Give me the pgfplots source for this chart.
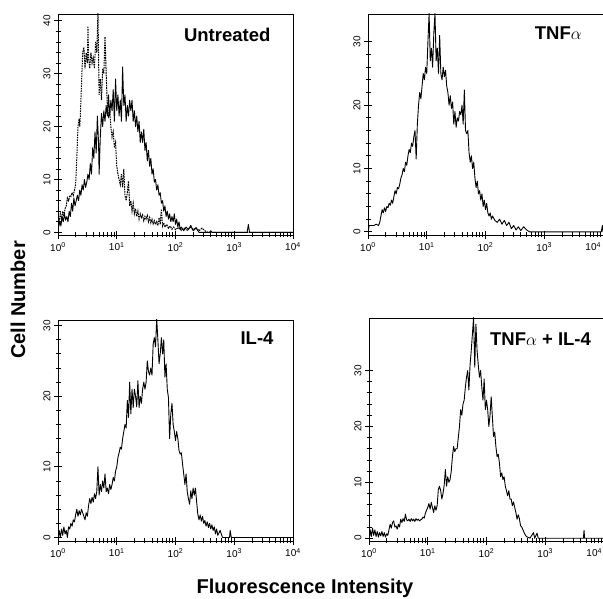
\documentclass[border=0pt]{standalone}
\usepackage{fontspec}
\setmainfont{Liberation Sans}
\usepackage{pgfplots}
\pgfplotsset{compat=1.18}
\tikzset{
  ptitle/.style={font=\fontsize{18.5}{20}\selectfont\bfseries},
  fcs/.style={black, line width=0.9pt, line join=round},
  fcsd/.style={black, line width=1pt, dash pattern=on 1.6pt off 0.9pt},
}
\pgfplotsset{
  flow/.style={
    scale only axis, width=235pt, height=221pt,
    xmin=0, xmax=4, ymin=-0.5,
    axis line style={line width=0.8pt},
    tick align=center,
    xtick pos=left, ytick pos=left,
    major tick length=8pt, minor tick length=5pt,
    tick style={black, line width=0.8pt},
    xtick={0,1,2,3,4},
    xticklabels={10\textsuperscript{0},10\textsuperscript{1},10\textsuperscript{2},10\textsuperscript{3},10\textsuperscript{4}},
    minor xtick={0.301,0.477,0.602,0.699,0.778,0.845,0.903,0.954,1.301,1.477,1.602,1.699,1.778,1.845,1.903,1.954,2.301,2.477,2.602,2.699,2.778,2.845,2.903,2.954,3.301,3.477,3.602,3.699,3.778,3.845,3.903,3.954},
    minor y tick num=4,
    /pgf/number format/assume math mode=true,
    xticklabel style={font=\fontsize{10}{10}\selectfont},
    yticklabel style={font=\fontsize{10}{10}\selectfont, rotate=90, anchor=south},
  },
  rightpanel/.style={
    xticklabels={10\textsuperscript{0},10\textsuperscript{1},10\textsuperscript{2},10\textsuperscript{3},\makebox[0pt][r]{10\textsuperscript{4}\hspace{2pt}}},
  },
}
\begin{document}
\begin{tikzpicture}
\path[use as bounding box] (0pt,0pt) rectangle (603pt,599pt);

% ---------------- Untreated
\begin{axis}[flow, at={(58pt,364pt)}, anchor=south west, ymax=41.3, ytick={0,10,20,30,40}]
\addplot[fcs] coordinates {
(0.00,10) (0.01,1) (0.03,2) (0.05,1.2) (0.07,3) (0.09,2) (0.11,3.5) (0.13,2.3) (0.15,3) (0.17,2)
(0.19,4) (0.21,3) (0.23,5.5) (0.25,4) (0.27,6.5) (0.29,5) (0.31,6) (0.33,7) (0.35,6) (0.37,8)
(0.39,7) (0.41,9) (0.43,8) (0.45,10) (0.47,8.5) (0.49,9.5) (0.51,11) (0.53,10) (0.55,13) (0.57,11)
(0.59,16) (0.61,14) (0.63,19) (0.65,15) (0.67,22) (0.69,17) (0.70,11) (0.72,18) (0.74,22.5) (0.76,20)
(0.78,23) (0.80,21) (0.82,24) (0.84,22) (0.86,26) (0.88,22) (0.90,25) (0.92,23) (0.94,27) (0.96,21)
(0.98,29) (1.00,23) (1.02,26) (1.04,22) (1.06,25) (1.08,21) (1.10,31.3) (1.12,24) (1.14,26) (1.16,21)
(1.18,24) (1.20,22) (1.22,25) (1.24,23) (1.26,25) (1.28,21) (1.30,23) (1.32,20) (1.34,22) (1.36,19)
(1.38,21) (1.40,17) (1.42,19) (1.44,17) (1.46,19.5) (1.48,15.5) (1.50,17) (1.52,13.5) (1.54,15.5) (1.56,12.5)
(1.58,14) (1.60,11) (1.62,12) (1.64,9.5) (1.66,10) (1.68,8) (1.70,9) (1.72,7) (1.74,7.5) (1.76,5.5)
(1.78,6) (1.80,4) (1.82,5) (1.84,3) (1.86,4) (1.88,2.5) (1.90,3.5) (1.92,2) (1.94,3) (1.96,2)
(1.98,3.5) (2.00,1.5) (2.02,2.5) (2.04,1) (2.06,2) (2.08,0.5) (2.10,1) (2.14,0.3) (2.18,1) (2.22,0.5)
(2.26,1.3) (2.30,0.3) (2.35,0.8) (2.40,0) (2.58,0) (2.60,0.3) (2.62,0) (3.22,0) (3.24,1.5) (3.26,0) (4.00,0)
};
\addplot[fcsd] coordinates {
(0.00,29) (0.005,3) (0.02,2) (0.04,3.5) (0.06,2.5) (0.08,4) (0.10,3) (0.12,4.5) (0.14,5) (0.16,6.5)
(0.18,6) (0.20,7) (0.22,6.8) (0.24,7.5) (0.26,7) (0.28,8) (0.30,9) (0.32,14) (0.34,20) (0.36,21.5)
(0.37,20) (0.38,22) (0.40,28) (0.42,34) (0.44,35) (0.46,31) (0.48,34) (0.50,32) (0.51,39) (0.52,33)
(0.54,31) (0.56,34) (0.58,32) (0.60,33) (0.62,31) (0.64,36) (0.66,34) (0.68,41.5) (0.70,26) (0.72,29)
(0.74,25) (0.76,31) (0.78,30) (0.80,37) (0.82,30) (0.84,24) (0.86,22) (0.88,23) (0.90,20) (0.92,18)
(0.94,19) (0.96,16) (0.98,17) (1.00,12.5) (1.02,11) (1.04,10) (1.06,9) (1.08,11) (1.10,8.5) (1.12,12)
(1.14,7) (1.16,6) (1.18,7.5) (1.20,9.7) (1.22,5) (1.24,6) (1.26,4) (1.28,5.5) (1.30,3.5) (1.32,4.5)
(1.34,3) (1.36,4) (1.38,2.5) (1.40,3.5) (1.42,2.8) (1.44,3.3) (1.46,2.2) (1.48,3) (1.50,2.5) (1.52,3.2)
(1.54,2) (1.56,2.8) (1.58,1.8) (1.60,2.5) (1.62,1.6) (1.64,2.2) (1.66,1.5) (1.68,2) (1.70,1.3) (1.72,2.8)
(1.74,1.5) (1.76,4.4) (1.78,1.2) (1.80,1.8) (1.82,1) (1.85,1.5) (1.88,0.8) (1.91,1.2) (1.94,0.6) (1.97,1)
(2.00,0.5) (2.05,0.9) (2.10,0.4) (2.15,0.8) (2.20,0.4) (2.25,1) (2.30,0.5) (2.35,0.9) (2.40,0.3) (2.45,0.8)
(2.50,0.3) (2.55,0) (4.00,0)
};
\node[ptitle] at (axis description cs:0.72,0.905) {Untreated};
\end{axis}

% ---------------- TNFalpha
\begin{axis}[flow, rightpanel, at={(368pt,364pt)}, anchor=south west, ymax=34.4, ytick={0,10,20,30}]
\addplot[fcs] coordinates {
(0.00,6) (0.005,0) (0.02,1) (0.06,1) (0.10,1) (0.14,1.2) (0.18,1) (0.20,1.5) (0.22,2.5) (0.24,3.5)
(0.26,3) (0.28,3.8) (0.30,3.2) (0.32,4) (0.34,3.8) (0.36,4.5) (0.38,4.2) (0.40,5) (0.42,4.5) (0.44,5.5)
(0.46,6.5) (0.48,6) (0.50,7) (0.52,6.8) (0.54,7.5) (0.56,8.5) (0.58,9) (0.60,10) (0.62,9.5) (0.64,11)
(0.66,10.5) (0.68,12) (0.70,13) (0.72,12.5) (0.74,14) (0.76,13.5) (0.78,15) (0.80,16) (0.82,11.5) (0.84,17)
(0.86,20) (0.88,22) (0.90,21) (0.92,23) (0.94,25) (0.96,24) (0.98,26) (1.00,25) (1.02,30) (1.04,34.5)
(1.06,27) (1.08,29) (1.10,26) (1.12,31.3) (1.14,34.5) (1.16,27) (1.18,29) (1.20,25) (1.22,31) (1.24,25)
(1.26,24) (1.28,26) (1.30,24.5) (1.32,25.5) (1.34,23) (1.36,22) (1.38,20) (1.40,21.5) (1.42,19.5) (1.44,20.5)
(1.46,17) (1.48,19) (1.50,16.5) (1.52,18) (1.54,17.5) (1.56,19) (1.58,18.5) (1.60,20) (1.62,17) (1.64,22.4)
(1.66,16) (1.68,15.5) (1.70,16) (1.72,12.5) (1.74,11) (1.76,12) (1.78,10) (1.80,11) (1.82,8.5) (1.84,7)
(1.86,8) (1.88,6) (1.90,6.5) (1.92,5) (1.94,6) (1.96,4) (1.98,5) (2.00,3.5) (2.02,4.5) (2.04,3)
(2.06,2.5) (2.08,3) (2.10,2) (2.12,2.5) (2.16,1.8) (2.20,1.5) (2.24,2) (2.28,1.2) (2.32,1.8) (2.36,1)
(2.40,1.5) (2.44,0.5) (2.48,1) (2.52,0.3) (2.56,0.8) (2.60,0.2) (2.65,0.8) (2.70,0.3) (2.75,0) (3.97,0)
(3.99,1) (4.00,0)
};
\node[ptitle] at (axis description cs:0.81,0.914) {TNF$\alpha$};
\end{axis}

% ---------------- IL-4
\begin{axis}[flow, at={(58pt,58pt)}, anchor=south west, ymax=30.8, ytick={0,10,20,30}]
\addplot[fcs] coordinates {
(0.00,6) (0.005,0) (0.02,1) (0.04,0) (0.06,1.2) (0.08,0.3) (0.10,1.5) (0.12,0.5) (0.14,1) (0.16,0)
(0.18,1.5) (0.20,1.2) (0.22,2) (0.24,1.6) (0.26,2.5) (0.28,2.2) (0.30,3.2) (0.32,4) (0.34,3) (0.36,3.8)
(0.38,3.2) (0.40,4) (0.42,3.5) (0.44,3) (0.46,2.5) (0.48,3.5) (0.50,3) (0.52,4.5) (0.54,5.5) (0.56,4.8)
(0.58,5.7) (0.60,5) (0.62,6.2) (0.64,5.5) (0.66,6.5) (0.68,10) (0.70,6) (0.72,7.5) (0.74,6.5) (0.76,8)
(0.78,7) (0.80,9) (0.82,6.5) (0.84,7) (0.86,6.2) (0.88,7.5) (0.90,6.8) (0.92,7.5) (0.94,8.5) (0.96,8)
(0.98,9.4) (1.00,10) (1.02,11.3) (1.04,12) (1.06,12.8) (1.08,12.5) (1.10,14) (1.12,15) (1.14,16) (1.16,15.5)
(1.18,19.4) (1.20,17) (1.22,22) (1.24,17.5) (1.26,21) (1.28,18.4) (1.30,21) (1.32,20) (1.34,18.5) (1.36,22.2)
(1.38,18.4) (1.40,20) (1.42,19) (1.44,21) (1.46,22) (1.48,21) (1.50,22) (1.52,25) (1.54,23.5) (1.56,23)
(1.58,24) (1.60,23) (1.62,27.4) (1.64,28.3) (1.66,27) (1.68,31) (1.70,28) (1.72,24.6) (1.74,26) (1.76,28.3)
(1.78,26) (1.80,28) (1.82,22.7) (1.84,24.6) (1.86,21) (1.88,19.8) (1.90,14) (1.92,17.5) (1.94,19) (1.96,16)
(1.98,15) (2.00,13.7) (2.02,15) (2.04,14) (2.06,12.3) (2.08,11.8) (2.10,12) (2.12,10.4) (2.14,9) (2.16,7.5)
(2.18,9) (2.20,6.5) (2.22,5.5) (2.24,4.7) (2.26,6.6) (2.28,5.5) (2.30,7) (2.32,6) (2.34,7) (2.36,5)
(2.38,3.3) (2.40,2.5) (2.42,3.2) (2.44,2.3) (2.46,3) (2.48,2) (2.50,2.4) (2.52,1.6) (2.54,2.2) (2.56,1.4)
(2.58,2) (2.60,1.2) (2.62,1.8) (2.64,1) (2.66,1.5) (2.68,0.5) (2.70,1.2) (2.72,0.3) (2.76,1) (2.80,0)
(2.92,0) (2.93,1) (2.95,0) (4.00,0)
};
\node[ptitle] at (axis description cs:0.847,0.918) {IL-4};
\end{axis}

% ---------------- TNFalpha + IL-4
\begin{axis}[flow, rightpanel, at={(369pt,58pt)}, anchor=south west, ymax=39.4, height=223pt, ytick={0,10,20,30}]
\addplot[fcs] coordinates {
(0.00,2.2) (0.005,0) (0.02,1.5) (0.04,0.3) (0.06,1.8) (0.08,0.5) (0.10,1.5) (0.12,0.3) (0.14,1.2) (0.16,0.2)
(0.18,1) (0.20,0.4) (0.22,1.2) (0.24,0.3) (0.26,1) (0.28,0.2) (0.30,0.8) (0.32,0.5) (0.34,1.5) (0.36,2.5)
(0.38,1.8) (0.40,2.8) (0.42,3.1) (0.44,2) (0.46,2.2) (0.48,1.6) (0.50,2.5) (0.52,2) (0.54,3.4) (0.56,2.8)
(0.58,3.5) (0.60,3) (0.62,4.3) (0.64,3.3) (0.66,3.1) (0.68,3.4) (0.70,3) (0.72,3.5) (0.74,3.1) (0.76,3.4)
(0.78,3) (0.80,3.5) (0.82,3.2) (0.84,3.4) (0.86,3.1) (0.88,3.3) (0.90,3.4) (0.92,3.8) (0.94,3.6) (0.96,4.5)
(0.98,5) (1.00,5.5) (1.02,6.2) (1.04,5.2) (1.06,6.4) (1.08,5.5) (1.10,4.6) (1.12,5.8) (1.14,5) (1.16,5.8)
(1.18,8.7) (1.20,9.3) (1.22,8.5) (1.24,7) (1.26,8) (1.28,9.5) (1.30,12.3) (1.32,9.3) (1.34,11) (1.36,10)
(1.38,10.5) (1.40,12) (1.42,14.6) (1.44,16.4) (1.46,15.5) (1.48,16) (1.50,16) (1.52,18) (1.54,20) (1.56,23)
(1.58,22) (1.60,24) (1.62,24.7) (1.64,27) (1.66,28.8) (1.68,30) (1.70,26.5) (1.72,31) (1.74,33.5) (1.76,36.5)
(1.78,39.5) (1.80,30.6) (1.82,38.3) (1.84,33.5) (1.86,31) (1.88,28.8) (1.90,30) (1.92,27) (1.94,24.7) (1.96,28.5)
(1.98,23) (2.00,24.7) (2.02,23) (2.04,20) (2.06,22) (2.08,25.3) (2.10,21.7) (2.12,18.2) (2.14,19) (2.16,16.4)
(2.18,14.6) (2.20,15) (2.22,13.5) (2.24,11) (2.26,11.7) (2.28,10.5) (2.30,11) (2.32,9.3) (2.34,8.5) (2.36,7.6)
(2.38,8.5) (2.40,7) (2.42,7) (2.44,5.8) (2.46,6.5) (2.48,5.5) (2.50,4.6) (2.52,3.4) (2.54,4.2) (2.56,3.5)
(2.58,2.2) (2.60,2) (2.62,1.5) (2.64,1) (2.66,0.6) (2.68,0.3) (2.70,0.2) (2.74,0) (2.80,1) (2.82,0)
(2.86,0.9) (2.88,0) (3.65,0) (3.66,1.4) (3.67,0) (4.00,0)
};
\node[ptitle] at (axis description cs:0.73,0.905) {TNF$\alpha$ + IL-4};
\end{axis}

\node[font=\fontsize{20}{22}\selectfont\bfseries, rotate=90] at (18pt,299pt) {Cell Number};
\node[font=\fontsize{20}{22}\selectfont\bfseries] at (305pt,11pt) {Fluorescence Intensity};
\end{tikzpicture}
\end{document}
